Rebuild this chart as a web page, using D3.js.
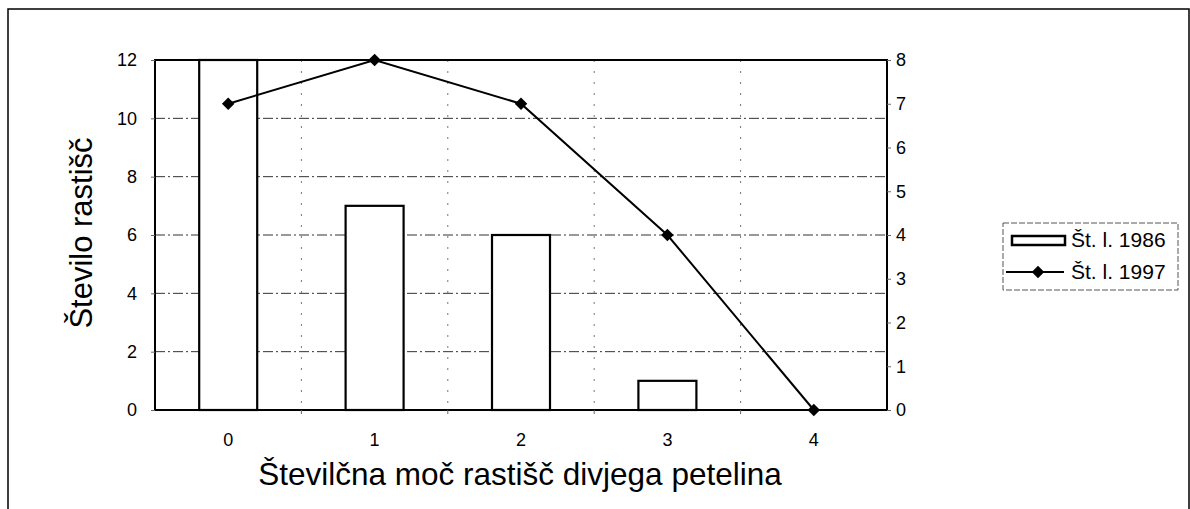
<!DOCTYPE html>
<html>
<head>
<meta charset="utf-8">
<script src="https://cdn.jsdelivr.net/npm/d3@7"></script>
<style>
  body { margin: 0; background: #fff; }
  text { font-family: "Liberation Sans", Arial, sans-serif; fill: #000; }
</style>
</head>
<body>
<svg id="chart" width="1190" height="509"></svg>
<script>
// data
const categories = ["0", "1", "2", "3", "4"];
const values1986 = [12, 7, 6, 1, 0];
const values1997 = [7, 8, 7, 4, 0];
const leftTicks = [0, 2, 4, 6, 8, 10, 12];
const rightTicks = [0, 1, 2, 3, 4, 5, 6, 7, 8];
const seriesNames = ["Št. l. 1986", "Št. l. 1997"];

const svg = d3.select("#chart");

// plot area
let plotL = 155, plotR = 887, plotT = 60, plotB = 410;

// outer frame (scan border)
svg.append("path")
    .attr("d", "M8,509 L8,9 L1189,9 L1189,509")
    .attr("fill", "none")
    .attr("stroke", "#000")
    .attr("stroke-width", 1.5);

const x = d3.scaleBand()
    .domain(categories)
    .range([plotL, plotR])
    .paddingInner(0)
    .paddingOuter(0);

const yL = d3.scaleLinear().domain([0, 12]).range([plotB, plotT]);
const yR = d3.scaleLinear().domain([0, 8]).range([plotB, plotT]);

// gridlines
svg.append("g")
    .selectAll("line")
    .data(leftTicks.filter(d => d > 0 && d < 12))
    .join("line")
    .attr("x1", plotL).attr("x2", plotR)
    .attr("y1", d => yL(d)).attr("y2", d => yL(d))
    .attr("stroke", "#333")
    .attr("stroke-width", 1)
    .attr("stroke-dasharray", "10,3,2,3");

svg.append("g")
    .selectAll("line")
    .data(categories.slice(1))
    .join("line")
    .attr("x1", d => x(d)).attr("x2", d => x(d))
    .attr("y1", plotT).attr("y2", plotB)
    .attr("stroke", "#777")
    .attr("stroke-width", 1)
    .attr("stroke-dasharray", "2,9");

// bars
let barW = 58;
svg.append("g")
    .selectAll("rect")
    .data(values1986)
    .join("rect")
    .attr("x", (d, i) => x(categories[i]) + x.bandwidth() / 2 - barW / 2)
    .attr("y", d => yL(d))
    .attr("width", barW)
    .attr("height", d => plotB - yL(d))
    .attr("fill", "#fff")
    .attr("stroke", "#000")
    .attr("stroke-width", 2.2);

// plot frame
svg.append("rect")
    .attr("x", plotL).attr("y", plotT)
    .attr("width", plotR - plotL).attr("height", plotB - plotT)
    .attr("fill", "none")
    .attr("stroke", "#000")
    .attr("stroke-width", 2);

// axes
const axL = svg.append("g")
    .attr("transform", "translate(" + plotL + ",0)")
    .call(d3.axisLeft(yL).tickValues(leftTicks).tickSize(4).tickPadding(14));
const axR = svg.append("g")
    .attr("transform", "translate(" + plotR + ",0)")
    .call(d3.axisRight(yR).tickValues(rightTicks).tickSize(4).tickPadding(5));
const axB = svg.append("g")
    .attr("transform", "translate(0," + plotB + ")")
    .call(d3.axisBottom(x).tickSize(0).tickPadding(23));

[axL, axR, axB].forEach(a => {
    a.select(".domain").remove();
    a.selectAll("text").style("font-size", "18px")
        .style("font-family", "'Liberation Sans', Arial, sans-serif");
    a.selectAll("line").attr("stroke", "#666");
});

// bottom tick marks at category boundaries
svg.append("g")
    .selectAll("line")
    .data(categories.slice(1))
    .join("line")
    .attr("x1", d => x(d)).attr("x2", d => x(d))
    .attr("y1", plotB).attr("y2", plotB + 4)
    .attr("stroke", "#666");

// line series on right axis
const line = d3.line()
    .x((d, i) => x(categories[i]) + x.bandwidth() / 2)
    .y(d => yR(d));

svg.append("path")
    .datum(values1997)
    .attr("d", line)
    .attr("fill", "none")
    .attr("stroke", "#000")
    .attr("stroke-width", 2);

const diamond = d3.symbol().type(d3.symbolDiamond2).size(100);
svg.append("g")
    .selectAll("path")
    .data(values1997)
    .join("path")
    .attr("d", diamond)
    .attr("transform", (d, i) => "translate(" + (x(categories[i]) + x.bandwidth() / 2) + "," + yR(d) + ")")
    .attr("fill", "#000");

// axis titles
svg.append("text")
    .attr("transform", "translate(92,233) rotate(-90)")
    .attr("text-anchor", "middle")
    .style("font-size", "31px")
    .text("Število rastišč");

svg.append("text")
    .attr("x", 520)
    .attr("y", 485)
    .attr("text-anchor", "middle")
    .style("font-size", "31.5px")
    .text("Številčna moč rastišč divjega petelina");

// legend
const lg = svg.append("g").attr("transform", "translate(1003,223)");
lg.append("rect")
    .attr("width", 175).attr("height", 67)
    .attr("fill", "#fff")
    .attr("stroke", "#555")
    .attr("stroke-width", 1)
    .attr("stroke-dasharray", "6,2");
lg.append("rect")
    .attr("x", 9).attr("y", 13)
    .attr("width", 53).attr("height", 9)
    .attr("fill", "#fff")
    .attr("stroke", "#000")
    .attr("stroke-width", 2.5);
lg.append("line")
    .attr("x1", 3).attr("x2", 61)
    .attr("y1", 49).attr("y2", 49)
    .attr("stroke", "#000").attr("stroke-width", 2);
lg.append("path")
    .attr("d", diamond)
    .attr("transform", "translate(35,49)")
    .attr("fill", "#000");
lg.selectAll("text.lab")
    .data(seriesNames)
    .join("text")
    .attr("class", "lab")
    .attr("x", 68)
    .attr("y", (d, i) => 24 + i * 32)
    .style("font-size", "21px")
    .text(d => d);
</script>
</body>
</html>
